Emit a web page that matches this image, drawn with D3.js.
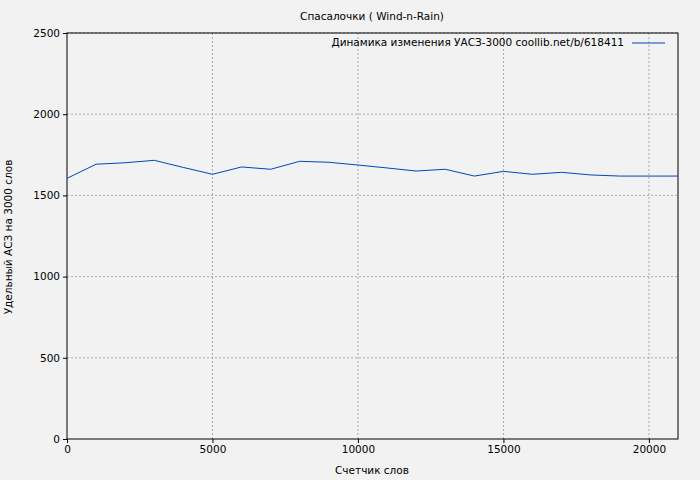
<!DOCTYPE html><html><head><meta charset="utf-8"><script src="https://cdn.jsdelivr.net/npm/d3@7"></script>
<style>body{margin:0;background:#f2f2f2}text{font-family:"DejaVu Sans",sans-serif;font-size:10.5px}</style></head><body><svg id="c" width="700" height="480"></svg><script>
const xs=[0,1000,2000,3000,4000,5000,6000,7000,8000,9000,10000,11000,12000,13000,14000,15000,16000,17000,18000,19000,20000,21000];
const ys=[1605,1692,1701,1716,1672,1630,1675,1661,1710,1704,1687,1669,1650,1661,1619,1648,1630,1642,1626,1619,1619,1619];
const xTicks=[0,5000,10000,15000,20000], yTicks=[0,500,1000,1500,2000,2500];
const title="Спасалочки ( Wind-n-Rain)", legend="Динамика изменения УАСЗ-3000 coollib.net/b/618411";
const svg=d3.select("#c");
svg.append("rect").attr("width",700).attr("height",480).attr("fill","#f2f2f2");
const L=67,R=678,T=33,B=439;
const x=d3.scaleLinear().domain([0,21000]).range([L,R]);
const y=d3.scaleLinear().domain([0,2500]).range([B,T]);
const g=svg.append("g");
xTicks.slice(1).forEach(t=>g.append("line").attr("x1",x(t)).attr("x2",x(t)).attr("y1",T).attr("y2",B).attr("stroke","#999").attr("stroke-dasharray","2,2").attr("stroke-width",0.8));
yTicks.slice(1).forEach(t=>g.append("line").attr("x1",L).attr("x2",R).attr("y1",y(t)).attr("y2",y(t)).attr("stroke","#999").attr("stroke-dasharray","2,2").attr("stroke-width",0.8));
svg.append("rect").attr("x",L).attr("y",T).attr("width",R-L).attr("height",B-T).attr("fill","none").attr("stroke","#000");
svg.append("g").attr("transform",`translate(0,${B})`).call(d3.axisBottom(x).tickValues(xTicks).tickSize(4).tickFormat(d3.format("d"))).call(a=>a.select(".domain").remove()).selectAll("text").attr("fill","#000");
svg.append("g").attr("transform",`translate(${L},0)`).call(d3.axisLeft(y).tickValues(yTicks).tickSize(4).tickFormat(d3.format("d"))).call(a=>a.select(".domain").remove()).selectAll("text").attr("fill","#000");
svg.selectAll(".tick text").style("font-size","10.5px").style("font-family","DejaVu Sans");
svg.append("path").datum(xs.map((v,i)=>[v,ys[i]])).attr("fill","none").attr("stroke","#0047bb").attr("stroke-width",1).attr("d",d3.line().x(d=>x(d[0])).y(d=>y(d[1])));
svg.append("text").attr("x",372).attr("y",20).attr("text-anchor","middle").text(title);
svg.append("text").attr("x",372).attr("y",474).attr("text-anchor","middle").text("Счетчик слов");
svg.append("text").attr("transform","translate(12,237) rotate(-90)").attr("text-anchor","middle").text("Удельный АСЗ на 3000 слов");
svg.append("text").attr("x",624).attr("y",46).attr("text-anchor","end").text(legend);
svg.append("line").attr("x1",632).attr("x2",665).attr("y1",43).attr("y2",43).attr("stroke","#0047bb");
</script></body></html>
